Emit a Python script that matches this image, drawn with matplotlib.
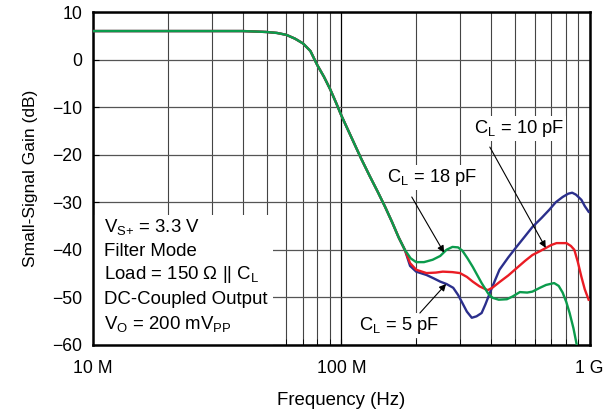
import matplotlib
matplotlib.use("Agg")
import matplotlib.pyplot as plt
from matplotlib.ticker import FixedLocator, NullFormatter

plt.rcParams['font.family'] = ['Liberation Sans', 'DejaVu Sans']
plt.rcParams['mathtext.default'] = 'regular'

# shared low-frequency part (MHz, dB)
f_common = [10, 20, 30, 40, 45, 50, 55, 60, 65, 70, 75, 80, 85, 90, 95, 100,
            110, 120, 130, 140, 150, 160, 170, 180]
g_common = [6.0, 6.0, 6.0, 6.0, 5.9, 5.8, 5.6, 5.2, 4.4, 3.4, 1.8, -1.2, -3.6, -6.2,
            -9.0, -11.8, -16.5, -20.8, -24.5, -27.8, -31.0, -34.2, -37.4, -40.0]

# C_L = 18 pF (green)
f_18 = [190, 200, 215, 233, 250, 265, 280, 295, 307, 322, 338, 367, 390, 406, 430,
        464, 490, 523, 560, 588, 630, 667, 719, 750, 778, 805, 830, 860, 890]
g_18 = [-41.8, -42.6, -42.6, -42.1, -41.3, -40.0, -39.4, -39.5, -40.2, -41.8, -43.6,
        -47.0, -49.2, -50.1, -50.5, -50.4, -49.8, -48.9, -49.0, -48.8, -48.0, -47.4,
        -47.0, -47.6, -49.0, -51.0, -53.3, -56.5, -60.4]

# C_L = 10 pF (red)
f_10 = [189, 200, 220, 240, 256, 280, 300, 320, 338, 360, 388, 405, 433, 470, 507,
        550, 588, 630, 667, 700, 735, 806, 840, 867, 895, 926, 955, 990]
g_10 = [-42.8, -44.2, -44.9, -44.8, -44.6, -44.7, -44.9, -45.7, -46.7, -47.7, -48.5,
        -48.0, -46.8, -45.4, -43.9, -42.3, -41.1, -40.3, -39.6, -39.0, -38.6, -38.6,
        -39.2, -40.0, -42.5, -45.7, -48.3, -50.5]

# C_L = 5 pF (blue)
f_5 = [189, 200, 220, 235, 250, 265, 282, 295, 307, 320, 335, 350, 367, 380, 396,
       415, 433, 470, 507, 550, 588, 640, 687, 730, 778, 820, 850, 880, 926, 955, 990]
g_5 = [-43.4, -44.6, -45.3, -46.0, -46.7, -47.2, -48.0, -49.5, -51.2, -53.0, -54.3,
       -54.0, -53.3, -51.5, -49.1, -46.5, -44.2, -41.6, -39.4, -37.1, -35.2, -33.3,
       -31.6, -30.0, -28.9, -28.2, -28.0, -28.4, -29.5, -30.8, -32.0]

yticks = [10, 0, -10, -20, -30, -40, -50, -60]
xticks = [10e6, 100e6, 1e9]
xtick_labels = ['10 M', '100 M', '1 G']

notes = [  # text, text pos (MHz, dB), arrow tip (MHz, dB), arrow tail (MHz, dB)
    ('$C_L$ = 10 pF', (518, -14.4), (665, -39.6), (396, -18.4)),
    ('$C_L$ = 18 pF', (231, -24.9), (259, -40.6), (192, -28.9)),
    ('$C_L$ = 5 pF', (170, -56.0), (264, -47.2), (207, -53.3)),
]

info_lines = ['$V_{S{+}}$ = 3.3 V', 'Filter Mode', 'Load = 150 Ω || $C_L$',
              'DC-Coupled Output', '$V_O$ = 200 $mV_{PP}$']

fig = plt.figure(figsize=(6.13, 4.15), dpi=100)
ax = fig.add_axes([0.152, 0.169, 0.810, 0.802])

ax.set_xscale('log')
ax.set_xlim(10e6, 1e9)
ax.set_ylim(-60, 10)

minor = [m * d for d in (1e7, 1e8) for m in range(2, 10)]
ax.xaxis.set_minor_locator(FixedLocator(minor))
ax.xaxis.set_minor_formatter(NullFormatter())
ax.set_xticks(xticks)
ax.set_xticklabels(xtick_labels)
ax.set_yticks(yticks)

ax.grid(True, which='major', axis='x', color='black', lw=0.9)
ax.grid(True, which='minor', axis='x', color='#444444', lw=0.8)
ax.grid(True, which='major', axis='y', color='#555555', lw=0.9)
ax.set_axisbelow(True)

ax.tick_params(which='both', direction='in', top=False, right=False, labelsize=12.7)
ax.tick_params(which='major', length=4)
ax.tick_params(which='minor', length=4)
ax.tick_params(axis='x', pad=11)
ax.tick_params(axis='y', pad=8)
for s in ax.spines.values():
    s.set_linewidth(1.8)

lw = 1.7
ax.plot([f * 1e6 for f in f_common + f_5], g_common + g_5, color='#2b2f8c', lw=lw, zorder=3)
ax.plot([f * 1e6 for f in f_common + f_10], g_common + g_10, color='#ea1c24', lw=lw, zorder=4)
ax.plot([f * 1e6 for f in f_common + f_18], g_common + g_18, color='#0b9b4c', lw=lw, zorder=5)

for text, tpos, tip, tail in notes:
    ax.text(tpos[0] * 1e6, tpos[1], text, ha='center', va='center', fontsize=13.2,
            bbox=dict(facecolor='white', edgecolor='none', pad=1.5), zorder=6)
    ax.annotate('', xy=(tip[0] * 1e6, tip[1]), xytext=(tail[0] * 1e6, tail[1]),
                arrowprops=dict(arrowstyle='-|>', color='black', lw=0.8,
                                mutation_scale=10, shrinkA=0, shrinkB=0), zorder=7)

# white box behind the conditions text
ax.add_patch(plt.Rectangle((0, 0), 0.362, 0.39, transform=ax.transAxes,
                           facecolor='white', edgecolor='none', zorder=2))
ys = [0.354, 0.282, 0.210, 0.135, 0.063]
for line, y in zip(info_lines, ys):
    ax.text(0.022, y, line, transform=ax.transAxes, ha='left', va='center',
            fontsize=13.4, zorder=6)

ax.set_xlabel('Frequency (Hz)', fontsize=13.4, labelpad=11)
ax.set_ylabel('Small-Signal Gain (dB)', fontsize=12.5, labelpad=10)

fig.savefig('out.png', dpi=100)
